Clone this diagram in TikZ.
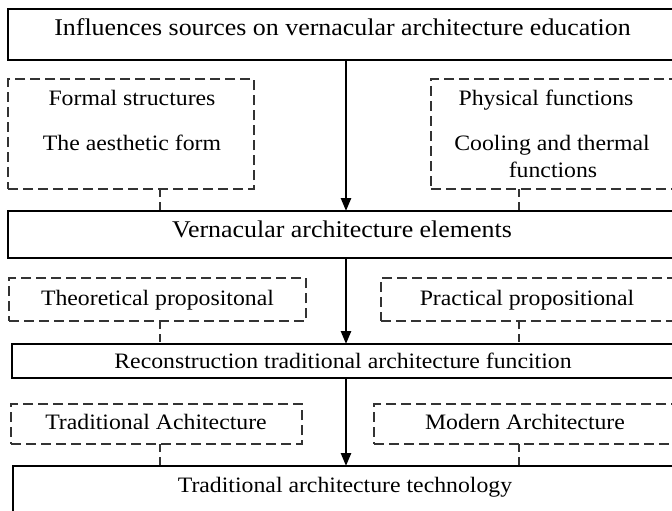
\documentclass[tikz,border=0pt]{standalone}
\usepackage{fontspec}
\setmainfont{Liberation Serif}[FakeStretch=1.08]
\usetikzlibrary{arrows.meta}
\begin{document}
\begin{tikzpicture}[x=1pt,y=-1pt,
  solidbox/.style={draw=black, line width=2.6pt, rectangle, inner sep=0pt, outer sep=0pt},
  dbox/.style={draw=black!80, line width=1.6pt, dash pattern=on 10pt off 5pt, rectangle, inner sep=0pt, outer sep=0pt},
  lbl/.style={font=\fontsize{22}{26}\selectfont, inner sep=0pt, anchor=base},
  biglbl/.style={lbl, font=\fontsize{24}{28}\selectfont},
  flow/.style={line width=2.5pt, -{Triangle[length=13pt,width=10pt]}},
  link/.style={draw=black!80, line width=1.5pt, dash pattern=on 8pt off 5pt}]
\useasboundingbox (0,0) rectangle (672,511);
\fill[white] (0,0) rectangle (672,511);
\clip (0,0) rectangle (672,511);
\coordinate (ax) at (346,0);
\coordinate (lx) at (160,0);
\coordinate (rx) at (519,0);
% boxes
\node[solidbox, minimum width=672pt, minimum height=51pt] (b1) at (344,34.5) {};
\node[dbox, minimum width=246pt, minimum height=110pt] (d1l) at (131,134) {};
\node[dbox, minimum width=249pt, minimum height=110pt] (d1r) at (555.5,134) {};
\node[solidbox, minimum width=672pt, minimum height=47pt] (b2) at (344,234.5) {};
\node[dbox, minimum width=297pt, minimum height=43pt] (d2l) at (157.5,299.5) {};
\node[dbox, minimum width=299pt, minimum height=43pt] (d2r) at (530.5,299.5) {};
\node[solidbox, minimum width=668pt, minimum height=34pt] (b3) at (346,361) {};
\node[dbox, minimum width=291pt, minimum height=40pt] (d3l) at (156.5,424) {};
\node[dbox, minimum width=306pt, minimum height=40pt] (d3r) at (527,424) {};
\node[solidbox, minimum width=667pt, minimum height=64pt] (b4) at (346.5,498) {};
% texts
\node[biglbl] (t1) at (342.5,36) {Influences sources on vernacular architecture education};
\node[lbl] (t1la) at (132,105) {Formal structures};
\node[lbl] (t1lb) at (132,150) {The aesthetic form};
\node[lbl] (t1ra) at (546,105) {Physical functions};
\node[lbl] (t1rb) at (552,150) {Cooling and thermal};
\node[lbl] (t1rc) at (553,177) {functions};
\node[biglbl] (t2) at (342,237) {Vernacular architecture elements};
\node[lbl] (t2l) at (157.5,305) {Theoretical propositonal};
\node[lbl] (t2r) at (527,305) {Practical propositional};
\node[lbl] (t3) at (343,368) {Reconstruction traditional architecture funcition};
\node[lbl] (t3l) at (156,429) {Traditional Achitecture};
\node[lbl] (t3r) at (525,429) {Modern Architecture};
\node[lbl] (t4) at (345,492) {Traditional architecture technology};
% connectors
\draw[flow] (b1.south -| ax) -- (b2.north -| ax);
\draw[flow] (b2.south -| ax) -- (b3.north -| ax);
\draw[flow] (b3.south -| ax) -- (b4.north -| ax);
\draw[link] (d1l.south -| lx) -- (b2.north -| lx);
\draw[link] (d1r.south -| rx) -- (b2.north -| rx);
\draw[link] (d2l.south -| lx) -- (b3.north -| lx);
\draw[link] (d2r.south -| rx) -- (b3.north -| rx);
\draw[link] (d3l.south -| lx) -- (b4.north -| lx);
\draw[link] (d3r.south -| rx) -- (b4.north -| rx);
\end{tikzpicture}
\end{document}
